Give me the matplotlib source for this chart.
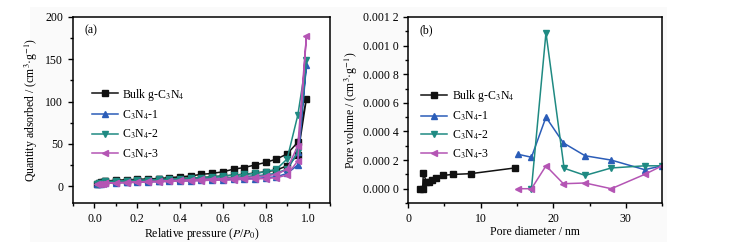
import matplotlib
matplotlib.use("Agg")
import matplotlib.pyplot as plt
from matplotlib.patches import Rectangle
from matplotlib.ticker import MultipleLocator, FuncFormatter

plt.rcParams["font.family"] = ["Liberation Serif", "DejaVu Serif"]
plt.rcParams["mathtext.fontset"] = "stix"
plt.rcParams["font.size"] = 8.5

# ---- panel (a): N2 isotherms (adsorption then desorption) ----
p_ads = [0.01, 0.02, 0.03, 0.04, 0.05, 0.1, 0.15, 0.2, 0.25, 0.3, 0.35, 0.4,
         0.45, 0.5, 0.55, 0.6, 0.65, 0.7, 0.75, 0.8, 0.85, 0.9, 0.95, 0.99]
p_des = [0.95, 0.9, 0.85, 0.8, 0.75, 0.7, 0.65, 0.6, 0.55, 0.5, 0.45, 0.4,
         0.35, 0.3, 0.25, 0.2, 0.15, 0.1, 0.05]

bulk_ads = [3, 4, 4.5, 5, 5.5, 6, 6.5, 7, 7.5, 8, 8.5, 9, 9.5, 10, 11, 12, 13,
            14, 15.5, 17, 19, 24, 37, 103]
bulk_des = [52, 38, 32, 28, 25, 22, 20, 17, 15, 14, 12, 11, 10, 9, 8.5, 8,
            7.5, 7, 6]
s1_ads = [2, 3, 3, 3.5, 4, 4, 4.5, 5, 5, 5.5, 6, 6, 6.5, 7, 7, 7.5, 8, 8.5,
          9, 10, 11, 15, 25, 143]
s1_des = [40, 20, 15, 13, 12, 11, 10, 9.5, 9, 8.5, 8, 7.5, 7, 6.5, 6, 5.5, 5,
          5, 4.5]
s2_ads = [3, 3.5, 4, 4, 4.5, 5, 5.5, 6, 6, 6.5, 7, 7.5, 8, 8.5, 9, 9.5, 10,
          11, 12, 13, 15, 20, 40, 149]
s2_des = [84, 32, 20, 17, 15, 14, 13, 12, 11, 10, 9.5, 9, 8.5, 8, 7.5, 7,
          6.5, 6, 5.5]
s3_ads = [2, 2.5, 3, 3, 3.5, 4, 4, 4.5, 5, 5, 5.5, 6, 6, 6.5, 7, 7, 7.5, 8,
          8.5, 9, 10, 13, 30, 177]
s3_des = [48, 20, 14, 12, 11, 10, 9.5, 9, 8.5, 8, 7.5, 7, 6.5, 6, 5.5, 5,
          4.5, 4, 3.5]

# ---- panel (b): pore size distribution ----
bulk_d = [1.6, 2.0, 2.1, 2.5, 2.9, 3.3, 3.9, 4.75, 6.2, 8.6, 14.7]
bulk_v = [0.0, 0.0, 0.00011, 0.00005, 0.00005, 0.00006, 0.000075, 0.000093,
          0.0001, 0.000105, 0.000145]
s1_d = [15.2, 17.0, 19.0, 21.4, 24.4, 28.0, 32.6, 35.0]
s1_v = [0.00024, 0.00022, 0.0005, 0.00032, 0.00023, 0.0002, 0.000133, 0.00016]
s2_d = [17.0, 19.0, 21.5, 24.4, 28.0, 32.6, 35.0]
s2_v = [0.0, 0.00109, 0.000143, 0.000093, 0.000145, 0.00016, 0.00016]
s3_d = [15.2, 17.0, 19.0, 21.4, 24.4, 28.0, 32.6, 35.0]
s3_v = [0.0, 0.0, 0.00016, 0.000035, 0.00004, 0.0, 0.0001, 0.00016]

labels = ["Bulk g-C$_3$N$_4$", "C$_3$N$_4$-1", "C$_3$N$_4$-2", "C$_3$N$_4$-3"]
colors = ["#111111", "#2b5db8", "#1f8a82", "#b455b4"]
markers = ["s", "^", "v", "<"]


def style_axes(ax):
    for s in ax.spines.values():
        s.set_linewidth(1.1)
    ax.tick_params(which="both", direction="out", width=1.0)
    ax.tick_params(which="major", length=3.5)
    ax.tick_params(which="minor", length=2)


fig = plt.figure(figsize=(7.34, 2.42), dpi=100)
fig.patches.append(Rectangle((30 / 734, 0), 637 / 734, 235 / 242,
                             transform=fig.transFigure, facecolor="#fafafa",
                             edgecolor="none", zorder=-10))

ax1 = fig.add_axes([0.0995, 0.161, 0.350, 0.769])
ax1.set_facecolor("white")
ads = [bulk_ads, s1_ads, s2_ads, s3_ads]
des = [bulk_des, s1_des, s2_des, s3_des]
for a, d, lab, c, m in zip(ads, des, labels, colors, markers):
    ax1.plot(p_ads + p_des, a + d, color=c, marker=m, ms=4, lw=1.1, label=lab)
ax1.set_xlim(-0.1, 1.1)
ax1.set_ylim(-20, 200)
ax1.xaxis.set_major_locator(MultipleLocator(0.2))
ax1.xaxis.set_minor_locator(MultipleLocator(0.1))
ax1.yaxis.set_major_locator(MultipleLocator(50))
ax1.yaxis.set_minor_locator(MultipleLocator(25))
ax1.xaxis.set_major_formatter(FuncFormatter(lambda v, p: f"{v:.1f}"))
ax1.set_xlabel("Relative pressure ($P$/$P_0$)", labelpad=1)
ax1.set_ylabel("Quantity adsorbed / (cm$^3$·g$^{-1}$)", labelpad=4)
ax1.text(0.045, 0.93, "(a)", transform=ax1.transAxes, ha="left", va="center")
style_axes(ax1)
ax1.legend(loc="upper left", bbox_to_anchor=(0.04, 0.67), frameon=False,
           handlelength=2.2, handletextpad=0.4, labelspacing=0.5,
           borderaxespad=0.3)

ax2 = fig.add_axes([0.556, 0.161, 0.346, 0.769])
ax2.set_facecolor("white")
xs = [bulk_d, s1_d, s2_d, s3_d]
ys = [bulk_v, s1_v, s2_v, s3_v]
for x, y, lab, c, m in zip(xs, ys, labels, colors, markers):
    ax2.plot(x, y, color=c, marker=m, ms=4, lw=1.1, label=lab)
ax2.set_xlim(0, 35)
ax2.set_ylim(-0.0001, 0.0012)
ax2.xaxis.set_major_locator(MultipleLocator(10))
ax2.xaxis.set_minor_locator(MultipleLocator(5))
ax2.yaxis.set_major_locator(MultipleLocator(0.0002))
ax2.yaxis.set_minor_locator(MultipleLocator(0.0001))


def fmt_b(v, pos):
    s = f"{abs(v):.4f}"
    return s[:5] + " " + s[5:]


ax2.yaxis.set_major_formatter(FuncFormatter(fmt_b))
ax2.set_xlabel("Pore diameter / nm", labelpad=1)
ax2.set_ylabel("Pore volume / (cm$^3$·g$^{-1}$)", labelpad=2)
ax2.text(0.045, 0.93, "(b)", transform=ax2.transAxes, ha="left", va="center")
style_axes(ax2)
ax2.legend(loc="upper left", bbox_to_anchor=(0.02, 0.66), frameon=False,
           handlelength=2.2, handletextpad=0.4, labelspacing=0.45,
           borderaxespad=0.3)

fig.savefig("out.png", dpi=100)
